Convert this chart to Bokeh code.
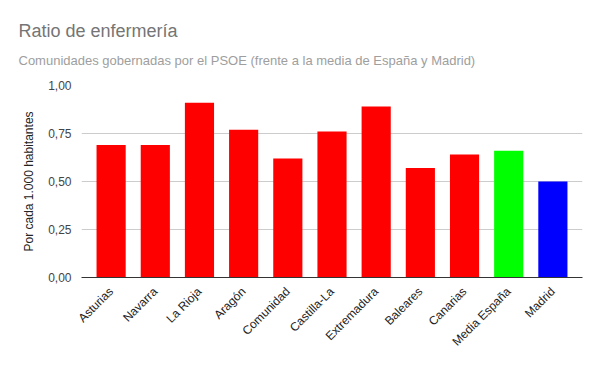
from bokeh.plotting import figure
from bokeh.models import Title, Range1d, FixedTicker, CustomJSTickFormatter, ColumnDataSource, FactorRange
from bokeh.embed import file_html
from bokeh.resources import INLINE
import math

categories = ["Asturias", "Navarra", "La Rioja", "Aragón", "Comunidad", "Castilla-La",
              "Extremadura", "Baleares", "Canarias", "Media España", "Madrid"]
values = [0.69, 0.69, 0.91, 0.77, 0.62, 0.76, 0.89, 0.57, 0.64, 0.66, 0.50]
colors = ["#ff0000"] * 9 + ["#00ff00", "#0000ff"]
y_ticks = [0, 0.25, 0.5, 0.75, 1.0]

src = ColumnDataSource(dict(cat=categories, val=values, col=colors))

FONT = "Liberation Sans"

p = figure(frame_width=501, frame_height=192, output_backend="svg", toolbar_location=None,
           x_range=FactorRange(*categories, range_padding=0.031), y_range=Range1d(0, 1),
           min_border_left=81, min_border_right=2, min_border_bottom=78, min_border_top=85)
p.title = None

p.vbar(x="cat", top="val", width=0.66, fill_color="col", line_color=None, source=src)

sub = Title(text="Comunidades gobernadas por el PSOE (frente a la media de España y Madrid)",
            text_font=FONT, text_font_size="13px", text_color="#9e9e9e",
            text_font_style="normal", offset=-63, standoff=35)
p.add_layout(sub, "above")
main = Title(text="Ratio de enfermería", text_font=FONT, text_font_size="18px",
             text_color="#757575", text_font_style="normal", offset=-63, standoff=-14)
p.add_layout(main, "above")

p.outline_line_color = None
p.xgrid.grid_line_color = None
p.ygrid.grid_line_color = "#cccccc"

p.yaxis.ticker = FixedTicker(ticks=y_ticks)
p.yaxis.formatter = CustomJSTickFormatter(code="return tick.toFixed(2).replace('.', ',');")
p.yaxis.axis_line_color = None
p.yaxis.major_tick_line_color = None
p.yaxis.minor_tick_line_color = None
p.yaxis.major_label_text_font = FONT
p.yaxis.major_label_text_font_size = "12px"
p.yaxis.major_label_text_color = "#444444"
p.yaxis.major_label_standoff = 4
p.yaxis.axis_label = "Por cada 1.000 habitantes"
p.yaxis.axis_label_text_font = FONT
p.yaxis.axis_label_text_font_size = "12px"
p.yaxis.axis_label_text_font_style = "normal"
p.yaxis.axis_label_text_color = "#222222"
p.yaxis.axis_label_standoff = 9

p.xaxis.axis_line_color = "#333333"
p.xaxis.major_tick_line_color = None
p.xaxis.minor_tick_line_color = None
p.xaxis.major_label_orientation = math.pi / 4
p.xaxis.major_label_text_font = FONT
p.xaxis.major_label_text_font_size = "12px"
p.xaxis.major_label_text_color = "#222222"
p.xaxis.major_label_standoff = 6

open("out.html", "w").write(file_html(p, INLINE))
